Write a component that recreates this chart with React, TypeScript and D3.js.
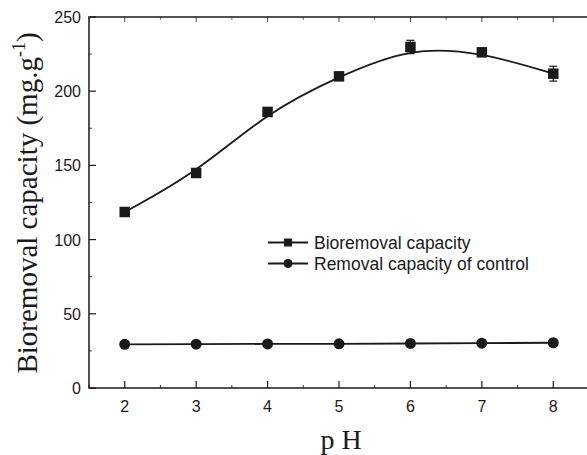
import React from "react";
import * as d3 from "d3";

// pH values tested
const phLevels = [2, 3, 4, 5, 6, 7, 8];
// Bioremoval capacity (mg/g) and its standard deviation
const bioCapacity = [118.6, 144.9, 186.0, 210.0, 229.8, 226.2, 211.8];
const bioError = [1.5, 1.5, 3.0, 1.5, 4.5, 1.5, 5.0];
// Removal capacity of the control (mg/g)
const controlCapacity = [29.4, 29.5, 29.7, 29.8, 30.0, 30.2, 30.5];
const controlError = [0.5, 0.5, 0.5, 0.5, 2.0, 0.5, 0.5];

const yTicks = [0, 50, 100, 150, 200, 250];
const xTicks = [2, 3, 4, 5, 6, 7, 8];
const legendLabels = ["Bioremoval capacity", "Removal capacity of control"];

const W = 587;
const H = 455;
const margin = { left: 89, top: 17, right: -2, bottom: 67 };

export default function App() {
  const x = d3.scaleLinear().domain([1.5, 8.5]).range([margin.left, W - margin.right]);
  const y = d3.scaleLinear().domain([0, 250]).range([H - margin.bottom, margin.top]);

  const bio = phLevels.map((p, i) => ({ p, v: bioCapacity[i], e: bioError[i] }));
  const ctrl = phLevels.map((p, i) => ({ p, v: controlCapacity[i], e: controlError[i] }));

  const bioLine = d3
    .line<{ p: number; v: number }>()
    .x((d) => x(d.p))
    .y((d) => y(d.v))
    .curve(d3.curveBasis);
  const ctrlLine = d3
    .line<{ p: number; v: number }>()
    .x((d) => x(d.p))
    .y((d) => y(d.v));

  const x0 = x.range()[0];
  const x1 = x.range()[1];
  const y0 = y.range()[0];
  const y1 = y.range()[1];
  const ink = "#1a1a1a";

  const xMinor = d3.range(1.5, 8.51, 0.5).filter((v) => !Number.isInteger(v));
  const yMinor = d3.range(25, 250, 50);

  const sq = 10.5;
  const r = 5.5;

  return (
    <svg width={W} height={H} style={{ position: "absolute", left: 0, top: 0 }}>
      <rect width={W} height={H} fill="#fff" />
      {/* frame */}
      <rect x={x0} y={y1} width={x1 - x0} height={y0 - y1} fill="none" stroke={ink} strokeWidth={1.5} />

      {/* x ticks, bottom and top, pointing inward */}
      {xTicks.map((t) => (
        <g key={"xt" + t}>
          <line x1={x(t)} x2={x(t)} y1={y0} y2={y0 - 7} stroke={ink} strokeWidth={1.2} />
          <line x1={x(t)} x2={x(t)} y1={y1} y2={y1 + 5} stroke={ink} strokeWidth={0.8} />
          <text x={x(t)} y={y0 + 24} textAnchor="middle" fontFamily="Liberation Sans, Arial" fontSize={16} fill={ink}>
            {t}
          </text>
        </g>
      ))}
      {xMinor.map((t) => (
        <g key={"xm" + t}>
          <line x1={x(t)} x2={x(t)} y1={y0} y2={y0 - 3} stroke={ink} strokeWidth={0.8} />
          <line x1={x(t)} x2={x(t)} y1={y1} y2={y1 + 3} stroke={ink} strokeWidth={0.6} />
        </g>
      ))}

      {/* y ticks */}
      {yTicks.map((t) => (
        <g key={"yt" + t}>
          <line x1={x0} x2={x0 + 7} y1={y(t)} y2={y(t)} stroke={ink} strokeWidth={1.2} />
          <text x={x0 - 8} y={y(t) + 6} textAnchor="end" fontFamily="Liberation Sans, Arial" fontSize={16} fill={ink}>
            {t}
          </text>
        </g>
      ))}
      {yMinor.map((t) => (
        <line key={"ym" + t} x1={x0} x2={x0 + 3} y1={y(t)} y2={y(t)} stroke={ink} strokeWidth={0.8} />
      ))}

      {/* axis titles */}
      <text x={341} y={449} textAnchor="middle" fontFamily="Liberation Serif, Times New Roman" fontSize={28} fill={ink}>
        p H
      </text>
      <text
        transform={`translate(37, 203) rotate(-90)`}
        textAnchor="middle"
        fontFamily="Liberation Serif, Times New Roman"
        fontSize={29}
        fill={ink}
      >
        Bioremoval capacity (mg.g
        <tspan dy={-12} fontSize={18}>-1</tspan>
        <tspan dy={12}>)</tspan>
      </text>

      {/* series: bioremoval capacity */}
      <path d={bioLine(bio) ?? ""} fill="none" stroke={ink} strokeWidth={1.8} />
      {bio.map((d) => (
        <g key={"b" + d.p}>
          <line x1={x(d.p)} x2={x(d.p)} y1={y(d.v - d.e)} y2={y(d.v + d.e)} stroke={ink} strokeWidth={1.2} />
          <line x1={x(d.p) - 4} x2={x(d.p) + 4} y1={y(d.v - d.e)} y2={y(d.v - d.e)} stroke={ink} strokeWidth={1.2} />
          <line x1={x(d.p) - 4} x2={x(d.p) + 4} y1={y(d.v + d.e)} y2={y(d.v + d.e)} stroke={ink} strokeWidth={1.2} />
          <rect x={x(d.p) - sq / 2} y={y(d.v) - sq / 2} width={sq} height={sq} fill={ink} />
        </g>
      ))}

      {/* series: control */}
      <path d={ctrlLine(ctrl) ?? ""} fill="none" stroke={ink} strokeWidth={1.8} />
      {ctrl.map((d) => (
        <g key={"c" + d.p}>
          <line x1={x(d.p)} x2={x(d.p)} y1={y(d.v - d.e)} y2={y(d.v + d.e)} stroke={ink} strokeWidth={1.2} />
          <circle cx={x(d.p)} cy={y(d.v)} r={r} fill={ink} />
        </g>
      ))}

      {/* legend */}
      {legendLabels.map((label, i) => {
        const ly = 242.5 + i * 21;
        return (
          <g key={label}>
            <line x1={268} x2={308} y1={ly} y2={ly} stroke={ink} strokeWidth={1.8} />
            {i === 0 ? (
              <rect x={288 - 4} y={ly - 4} width={8} height={8} fill={ink} />
            ) : (
              <circle cx={288} cy={ly} r={4.5} fill={ink} />
            )}
            <text x={314} y={ly + 6} fontFamily="Liberation Sans, Arial" fontSize={17.5} fill={ink}>
              {label}
            </text>
          </g>
        );
      })}
    </svg>
  );
}
